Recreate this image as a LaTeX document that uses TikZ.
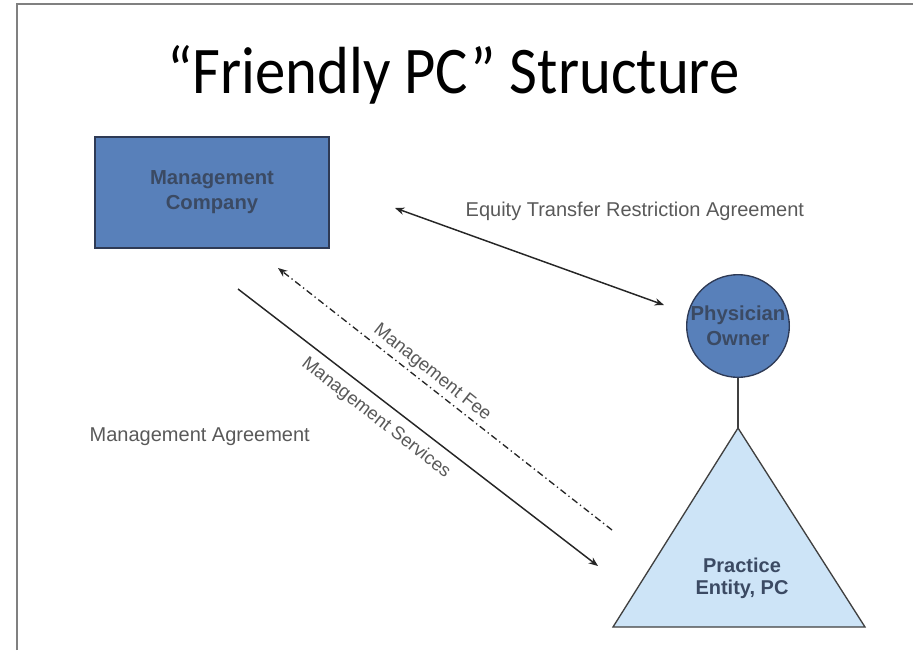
\documentclass[tikz,border=0pt]{standalone}
\usepackage{fontspec}
\setmainfont{Liberation Sans}
\newfontfamily\titlefont{Carlito}
\usetikzlibrary{arrows.meta}
\definecolor{boxblue}{HTML}{5880BA}
\definecolor{boxborder}{HTML}{2E3A55}
\definecolor{nodetext}{HTML}{3B4A63}
\definecolor{tribg}{HTML}{CDE4F7}
\definecolor{triborder}{HTML}{404040}
\definecolor{labelgray}{HTML}{595959}
\definecolor{framegray}{HTML}{808080}
\tikzset{
  entity/.style={fill=boxblue, draw=boxborder, line width=1pt, text=nodetext,
    align=center, font=\bfseries\fontsize{15.2}{18.8}\selectfont},
  lbl/.style={text=labelgray, font=\fontsize{15}{18}\selectfont},
  rlbl/.style={text=labelgray, font=\fontsize{13.8}{16}\selectfont},
  conn/.style={line width=1.1pt, black!85},
}
\begin{document}
\begin{tikzpicture}[x=0.75pt,y=-0.75pt]
\useasboundingbox (0,0) rectangle (913,650);
\draw[framegray, line width=1.5pt] (16.5,650) -- (16.5,3.5) -- (913,3.5);
\node[anchor=base, xscale=0.91, font=\titlefont\fontsize{50}{54}\selectfont, text=black] (title) at (453.5,93) {“Friendly PC” Structure};
\node[entity, minimum width=175.5pt, minimum height=83.25pt] (mc) at (212,192.5) {Management\\Company};
\node[entity, circle, minimum size=75pt, inner sep=0pt] (po) at (738,326) {Physician\\Owner};
\coordinate (apex) at (738,428);
\coordinate (bl) at (613,627);
\coordinate (br) at (865,627);
\draw[fill=tribg, draw=triborder, line width=1pt] (apex) -- (br) -- (bl) -- cycle;
\node[align=center, text=nodetext, font=\bfseries\fontsize{15}{16.5}\selectfont] (pe) at (742,578) {Practice\\Entity, PC};
\draw[triborder, line width=1pt] (po.south) -- (apex);
% equity arrow
\coordinate (eqA) at (395,208);
\coordinate (eqB) at (664,305);
\draw[conn, {Stealth[length=7pt,width=5.5pt]}-{Stealth[length=7pt,width=5.5pt]}] (eqA) -- (eqB);
\node[lbl, anchor=west] (eql) at (461,211) {Equity Transfer Restriction Agreement};
% management fee
\coordinate (feeA) at (612,530);
\coordinate (feeB) at (278,268);
\draw[conn, line width=1pt, dash pattern=on 5pt off 2.5pt on 1pt off 2.5pt, -{Stealth[length=7pt,width=5.5pt]}] (feeA) -- (feeB);
\node[rlbl, rotate=-38.5] (feel) at (432,373) {Management Fee};
% management services
\coordinate (svA) at (238,289);
\coordinate (svB) at (598,566);
\draw[conn, -{Stealth[length=7pt,width=5.5pt]}] (svA) -- (svB);
\node[rlbl, rotate=-38] (svl) at (376,418) {Management Services};
\node[lbl, anchor=west] (mal) at (85,437) {Management Agreement};
\end{tikzpicture}
\end{document}
